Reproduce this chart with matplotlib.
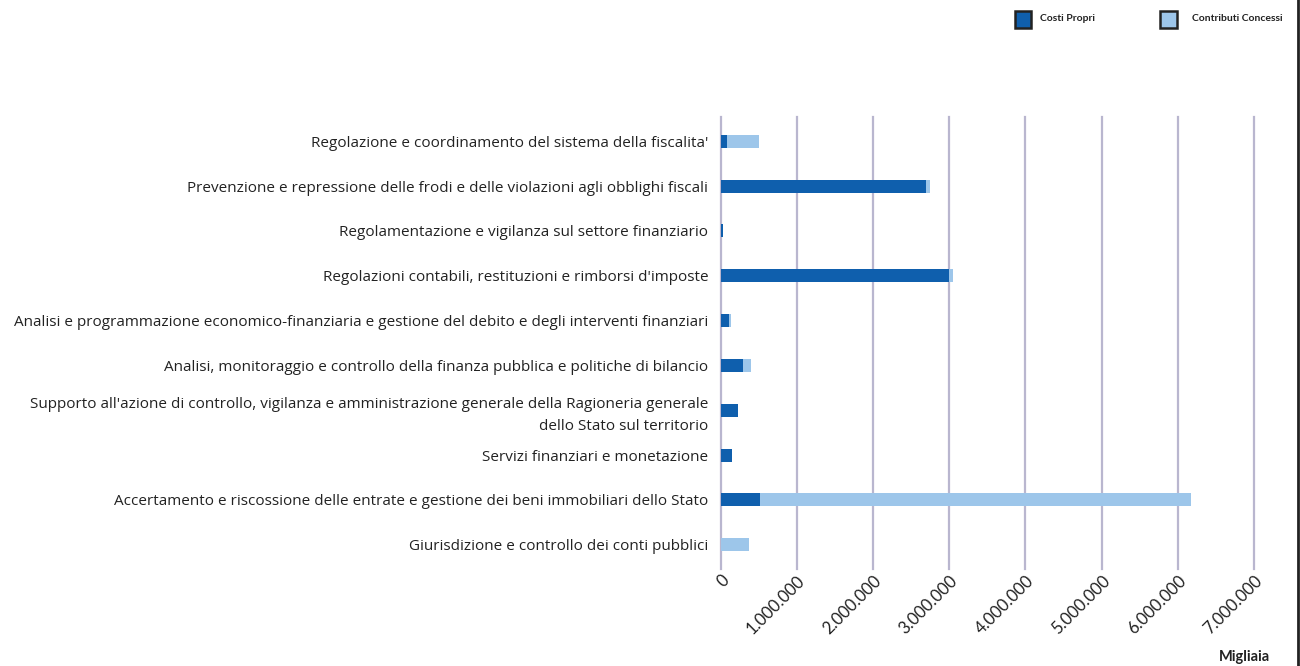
import matplotlib
matplotlib.use("Agg")
import matplotlib.pyplot as plt
from matplotlib.patches import Rectangle
from matplotlib.ticker import FuncFormatter

categorie = [
    "Regolazione e coordinamento del sistema della fiscalita'",
    "Prevenzione e repressione delle frodi e delle violazioni agli obblighi fiscali",
    "Regolamentazione e vigilanza sul settore finanziario",
    "Regolazioni contabili, restituzioni e rimborsi d'imposte",
    "Analisi e programmazione economico-finanziaria e gestione del debito e degli interventi finanziari",
    "Analisi, monitoraggio e controllo della finanza pubblica e politiche di bilancio",
    "Supporto all'azione di controllo, vigilanza e amministrazione generale della Ragioneria generale\ndello Stato sul territorio",
    "Servizi finanziari e monetazione",
    "Accertamento e riscossione delle entrate e gestione dei beni immobiliari dello Stato",
    "Giurisdizione e controllo dei conti pubblici",
]
costi_propri = [80000, 2700000, 25000, 3000000, 105000, 290000, 220000, 150000, 510000, 0]
contributi_concessi = [420000, 50000, 0, 50000, 25000, 100000, 0, 0, 5660000, 370000]
serie = ["Costi Propri", "Contributi Concessi"]

col_propri = "#0f5fad"
col_contributi = "#9dc6ea"
col_grid = "#b9b6cf"

fig = plt.figure(figsize=(13, 6.66), dpi=100)
ax = fig.add_axes([0.5545, 0.145, 0.41, 0.68])

y = list(range(len(categorie)))
ax.barh(y, costi_propri, height=0.29, color=col_propri, zorder=3)
ax.barh(y, contributi_concessi, left=costi_propri, height=0.29, color=col_contributi, zorder=3)

ax.set_yticks(y)
ax.set_yticklabels(categorie, fontsize=11, family="Open Sans", color="#222222", linespacing=1.65)
ax.invert_yaxis()
ax.set_ylim(len(categorie) - 0.45, -0.55)

ax.set_xlim(0, 7000000)
ax.set_xticks(range(0, 7000001, 1000000))
ax.xaxis.set_major_formatter(FuncFormatter(lambda v, p: f"{int(v):,}".replace(",", ".")))
for lbl in ax.get_xticklabels():
    lbl.set_rotation(45)
    lbl.set_ha("right")
    lbl.set_va("top")
    lbl.set_rotation_mode("anchor")
    lbl.set_fontsize(12)
    lbl.set_family("Lato")
    lbl.set_color("#222222")

ax.tick_params(axis="y", length=0, pad=9)
ax.tick_params(axis="x", length=0, pad=2)
ax.grid(axis="x", color=col_grid, linewidth=1.6, zorder=0)
for gl in ax.get_xgridlines():
    gl.set_clip_on(False)
for s in ax.spines.values():
    s.set_visible(False)

fig.text(0.957, 0.0135, "Migliaia", fontsize=10.5, fontweight="bold", family="Lato",
         ha="center", va="center", color="#222222")

# legenda in alto a destra
for nome, colore, xq, xt in [(serie[0], col_propri, 0.7805, 0.800),
                             (serie[1], col_contributi, 0.8925, 0.917)]:
    fig.patches.append(Rectangle((xq, 0.958), 0.0128, 0.026, facecolor=colore,
                                 edgecolor="#222222", linewidth=1.8,
                                 transform=fig.transFigure, figure=fig))
    fig.text(xt, 0.9715, nome, fontsize=7.5, fontweight="bold", family="Lato",
             ha="left", va="center", color="#222222")

# bordo destro
fig.add_artist(plt.Line2D([0.9985, 0.9985], [0, 1], color="#222222", linewidth=2,
                          transform=fig.transFigure))

fig.savefig("out.png", dpi=100, facecolor="white")
